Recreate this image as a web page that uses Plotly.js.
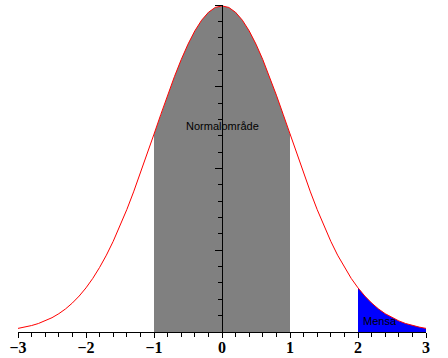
<!DOCTYPE html>
<html>
<head>
<meta charset="utf-8">
<script src="https://cdn.plot.ly/plotly-3.0.1.min.js"></script>
<style>html,body{margin:0;padding:0;background:#fff;}#chart{width:448px;height:358px;}</style>
</head>
<body>
<div id="chart"></div>
<script>
// Curve (x step 0.1 from -3 to 3)
const xVals = [-3.0,-2.9,-2.8,-2.7,-2.6,-2.5,-2.4,-2.3,-2.2,-2.1,-2.0,-1.9,-1.8,-1.7,-1.6,-1.5,-1.4,-1.3,-1.2,-1.1,-1.0,-0.9,-0.8,-0.7,-0.6,-0.5,-0.4,-0.3,-0.2,-0.1,0.0,0.1,0.2,0.3,0.4,0.5,0.6,0.7,0.8,0.9,1.0,1.1,1.2,1.3,1.4,1.5,1.6,1.7,1.8,1.9,2.0,2.1,2.2,2.3,2.4,2.5,2.6,2.7,2.8,2.9,3.0];
const yVals = [0.0044,0.0060,0.0079,0.0104,0.0136,0.0175,0.0224,0.0283,0.0355,0.0440,0.0540,0.0656,0.0790,0.0940,0.1109,0.1295,0.1497,0.1714,0.1942,0.2179,0.2420,0.2661,0.2897,0.3123,0.3332,0.3521,0.3683,0.3814,0.3910,0.3970,0.3989,0.3970,0.3910,0.3814,0.3683,0.3521,0.3332,0.3123,0.2897,0.2661,0.2420,0.2179,0.1942,0.1714,0.1497,0.1295,0.1109,0.0940,0.0790,0.0656,0.0540,0.0440,0.0355,0.0283,0.0224,0.0175,0.0136,0.0104,0.0079,0.0060,0.0044];
const normalRange = [-1, 1];
const tailRange = [2, 3];
const labelNormal = "Normalområde";
const labelTail = "Mensa";
const xTicks = [-3,-2,-1,0,1,2,3];

function sub(r){
  const xs=[],ys=[];
  xVals.forEach((x,i)=>{ if(x>=r[0]-1e-9 && x<=r[1]+1e-9){xs.push(x);ys.push(yVals[i]);} });
  return {xs,ys};
}
const n = sub(normalRange), t = sub(tailRange);

const traces = [
  {x:n.xs,y:n.ys,type:'scatter',mode:'lines',fill:'tozeroy',fillcolor:'#808080',line:{width:0,color:'#808080'},hoverinfo:'skip'},
  {x:t.xs,y:t.ys,type:'scatter',mode:'lines',fill:'tozeroy',fillcolor:'#0000ff',line:{width:0,color:'#0000ff'},hoverinfo:'skip'},
  {x:xVals,y:yVals,type:'scatter',mode:'lines',line:{color:'#ff0000',width:1},hoverinfo:'skip'}
];

const layout = {
  width:448,height:358,
  margin:{l:18,r:22,t:5,b:26},
  paper_bgcolor:'#fff',plot_bgcolor:'#fff',
  showlegend:false,
  xaxis:{range:[-3,3],showgrid:false,zeroline:false,showline:true,linecolor:'#000',linewidth:1,
    ticks:'outside',ticklen:5,tickcolor:'#000',tickwidth:1,tickvals:xTicks,ticklabelstandoff:-4,
    minor:{dtick:0.2,ticks:'outside',ticklen:4,tickcolor:'#000',tickwidth:1,showgrid:false},
    tickfont:{family:'Liberation Serif, Times New Roman, serif',size:16,color:'#000',weight:'bold'}},
  yaxis:{range:[0,0.4],anchor:'free',position:0.5,showgrid:false,zeroline:false,showline:true,linecolor:'#000',linewidth:1,
    ticks:'outside',ticklen:7,tickcolor:'#000',tickwidth:1,dtick:0.1,tick0:0,showticklabels:false,
    minor:{dtick:0.02,ticks:'outside',ticklen:4,tickcolor:'#000',tickwidth:1,showgrid:false}},
  annotations:[
    {x:0,y:0.252,xref:'x',yref:'y',text:labelNormal,showarrow:false,font:{family:'Liberation Sans, Arial, sans-serif',size:11,color:'#000'}},
    {x:2.32,y:0.0135,xref:'x',yref:'y',text:labelTail,showarrow:false,font:{family:'Liberation Sans, Arial, sans-serif',size:11,color:'#000'}}
  ]
};
Plotly.newPlot('chart',traces,layout,{staticPlot:true,displayModeBar:false});
</script>
</body>
</html>
